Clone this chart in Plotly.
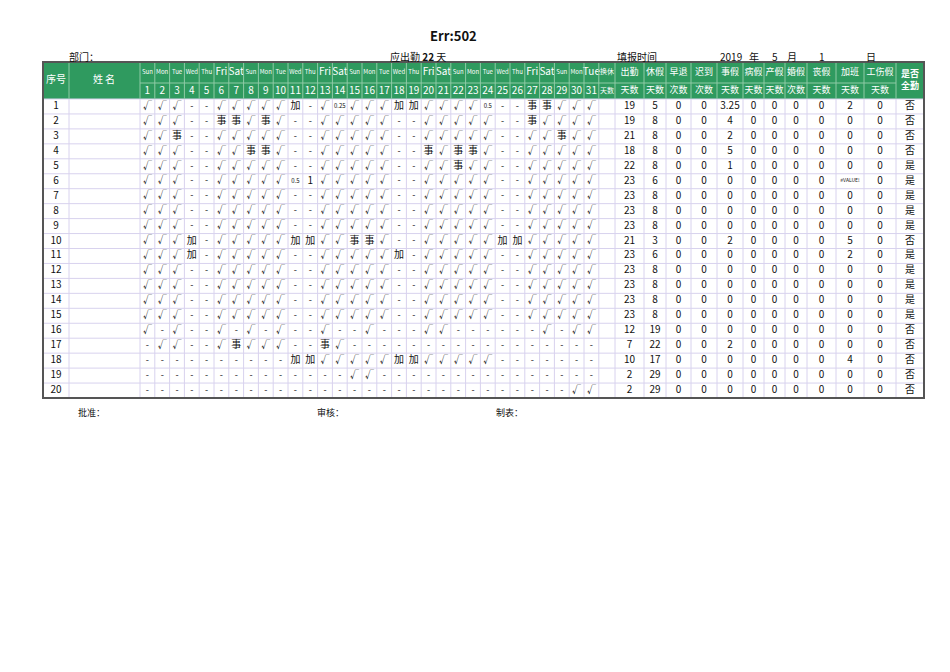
import plotly.graph_objects as go

days = list(range(1, 32))
weekdays = ["Sun","Mon","Tue","Wed","Thu","Fri","Sat"]
day_names = [weekdays[(d-1) % 7] for d in days]

V = "√"
std = [V,V,V,"-","-",V,V,V,V,V,"-","-",V,V,V,V,V,"-","-",V,V,V,V,V,"-","-",V,V,V,V,V]
def mod(base, changes):
    r = list(base)
    for d, v in changes.items():
        r[d-1] = v
    return r
dash = ["-"]*31
daily = [
    mod(std, {11:"加",14:"0.25",18:"加",19:"加",24:"0.5",27:"事",28:"事"}),
    mod(std, {6:"事",7:"事",9:"事",27:"事"}),
    mod(std, {3:"事",29:"事"}),
    mod(std, {8:"事",9:"事",20:"事",22:"事",23:"事"}),
    mod(std, {22:"事"}),
    mod(std, {11:"0.5",12:"1"}),
    std, std, std,
    mod(std, {4:"加",11:"加",12:"加",15:"事",16:"事",25:"加",26:"加"}),
    mod(std, {4:"加",18:"加"}),
    std, std, std, std,
    mod(dash, {1:V,3:V,6:V,8:V,10:V,13:V,16:V,20:V,21:V,28:V,30:V,31:V}),
    mod(dash, {2:V,3:V,6:V,7:"事",8:V,9:V,10:V,13:"事",14:V}),
    mod(dash, {11:"加",12:"加",13:V,14:V,15:V,16:V,17:V,18:"加",19:"加",20:V,21:V,22:V,23:V,24:V}),
    mod(dash, {15:V,16:V}),
    mod(dash, {30:V,31:V}),
]
attend = [19,19,21,18,22,23,23,23,23,21,23,23,23,23,23,12,7,10,2,2]
rest = [5,8,8,8,8,6,8,8,8,3,6,8,8,8,8,19,22,17,29,29]
early = [0]*20
late = [0]*20
personal = ["3.25","4","2","5","1"] + ["0"]*4 + ["2"] + ["0"]*6 + ["2"] + ["0"]*3
sick = [0]*20
maternity = [0]*20
marriage = [0]*20
funeral = [0]*20
overtime = ["2","0","0","0","0","#VALUE!","0","0","0","5","2","0","0","0","0","0","0","4","0","0"]
injury = [0]*20
full = ["否","否","否","否","是","是","是","是","是","否","是","是","是","是","是","否","否","否","否","否"]
sum_top = ["出勤","休假","早退","迟到","事假","病假","产假","婚假","丧假","加班","工伤假"]
sum_bot = ["天数","天数","次数","次数","天数","天数","天数","次数","天数","天数","天数"]

GREEN = "#2f9a5f"
GRID = "#d8d2ee"
fig = go.Figure()
shapes = []
tx, ty, tt, ts, tc = [], [], [], [], []
def txt(x, y, s, size=10, color="#111"):
    tx.append(x); ty.append(y); tt.append(s); ts.append(size); tc.append(color)

L, R = 43, 924
HT, HM, HB = 62, 83, 99
RH = 14.95
dx0, dw = 140, 14.8
dayend = dx0 + 31*dw
sumb = [dayend, 615, 644, 666, 691, 717, 743, 764, 785, 807, 836, 864, 896, R]
BOT = HB + 20*RH

shapes.append(dict(type="rect", x0=L, x1=R, y0=HT, y1=HB, fillcolor=GREEN, line=dict(width=0), layer="below"))
for i in range(21):
    y = HB + i*RH
    shapes.append(dict(type="line", x0=L, x1=R, y0=y, y1=y, line=dict(color=GRID, width=1)))
xs = [L, 69, dx0] + [dx0 + k*dw for k in range(1, 32)] + sumb[1:]
for x in xs:
    shapes.append(dict(type="line", x0=x, x1=x, y0=HB, y1=BOT, line=dict(color=GRID, width=1)))
    if x not in (L, 69) and x < 896:
        shapes.append(dict(type="line", x0=x, x1=x, y0=HT, y1=HB, line=dict(color="#8fcaa6", width=1)))
shapes.append(dict(type="line", x0=69, x1=69, y0=HT, y1=HB, line=dict(color="#8fcaa6", width=1)))
shapes.append(dict(type="line", x0=896, x1=896, y0=HT, y1=HB, line=dict(color="#8fcaa6", width=1)))
shapes.append(dict(type="line", x0=dx0, x1=896, y0=HM, y1=HM, line=dict(color="#8fcaa6", width=1)))
shapes.append(dict(type="rect", x0=L, x1=R, y0=HT, y1=BOT, line=dict(color="#555", width=2)))

W = "white"
txt(56, (HT+HB)/2, "序号", 10, W)
txt(104, (HT+HB)/2, "姓 名", 10, W)
for k, d in enumerate(days):
    cx = dx0 + (k+0.5)*dw
    big = day_names[k] in ("Fri","Sat") or d == 31
    txt(cx, (HT+HM)/2, day_names[k], 10 if big else 6, W)
    txt(cx, (HM+HB)/2, str(d), 10, W)
txt((sumb[0]+sumb[1])/2, (HT+HM)/2, "换休", 7, W)
txt((sumb[0]+sumb[1])/2, (HM+HB)/2, "天数", 7, W)
for j in range(11):
    cx = (sumb[j+1]+sumb[j+2])/2
    txt(cx, (HT+HM)/2, sum_top[j], 9, W)
    txt(cx, (HM+HB)/2, sum_bot[j], 9, W)
txt(910, (HT+HB)/2, "<b>是否<br>全勤</b>", 9, W)

cols = [attend, rest, early, late, personal, sick, maternity, marriage, funeral, overtime, injury]
for i in range(20):
    cy = HB + (i+0.5)*RH
    txt(56, cy, str(i+1), 10)
    for k in range(31):
        v = daily[i][k]
        size = 6 if "." in v else (10 if v in ("加","事","1") else 9)
        txt(dx0 + (k+0.5)*dw, cy, v, size)
    for j, col in enumerate(cols):
        v = str(col[i])
        txt((sumb[j+1]+sumb[j+2])/2, cy, v, 5 if v.startswith("#") else 10)
    txt(910, cy, full[i], 10)

fig.add_trace(go.Scatter(x=tx, y=ty, text=tt, mode="text", hoverinfo="skip",
                         textfont=dict(size=ts, color=tc, family="Noto Sans CJK SC"), showlegend=False))

ann = [
    (453, 35, "<b>Err:502</b>", 13),
    (84, 56, "部门：", 10), (418, 56, "应出勤 <b>22</b> 天", 10), (637, 56, "填报时间", 10),
    (731, 56, "2019", 10), (754, 56, "年", 10), (775, 56, "5", 10), (792, 56, "月", 10),
    (822, 56, "1", 10), (871, 56, "日", 10),
    (91, 412, "批准：", 9), (330, 412, "审核：", 9), (509, 412, "制表：", 9),
]
for x, y, s, sz in ann:
    fig.add_annotation(x=x, y=y, text=s, showarrow=False, font=dict(size=sz, color="#111", family="Noto Sans CJK SC"))

fig.update_layout(width=950, height=672, margin=dict(l=0, r=0, t=0, b=0),
                  paper_bgcolor="white", plot_bgcolor="white", shapes=shapes,
                  xaxis=dict(range=[8, 958], visible=False, fixedrange=True),
                  yaxis=dict(range=[680, 8], visible=False, fixedrange=True))
fig.write_html("out.html")
